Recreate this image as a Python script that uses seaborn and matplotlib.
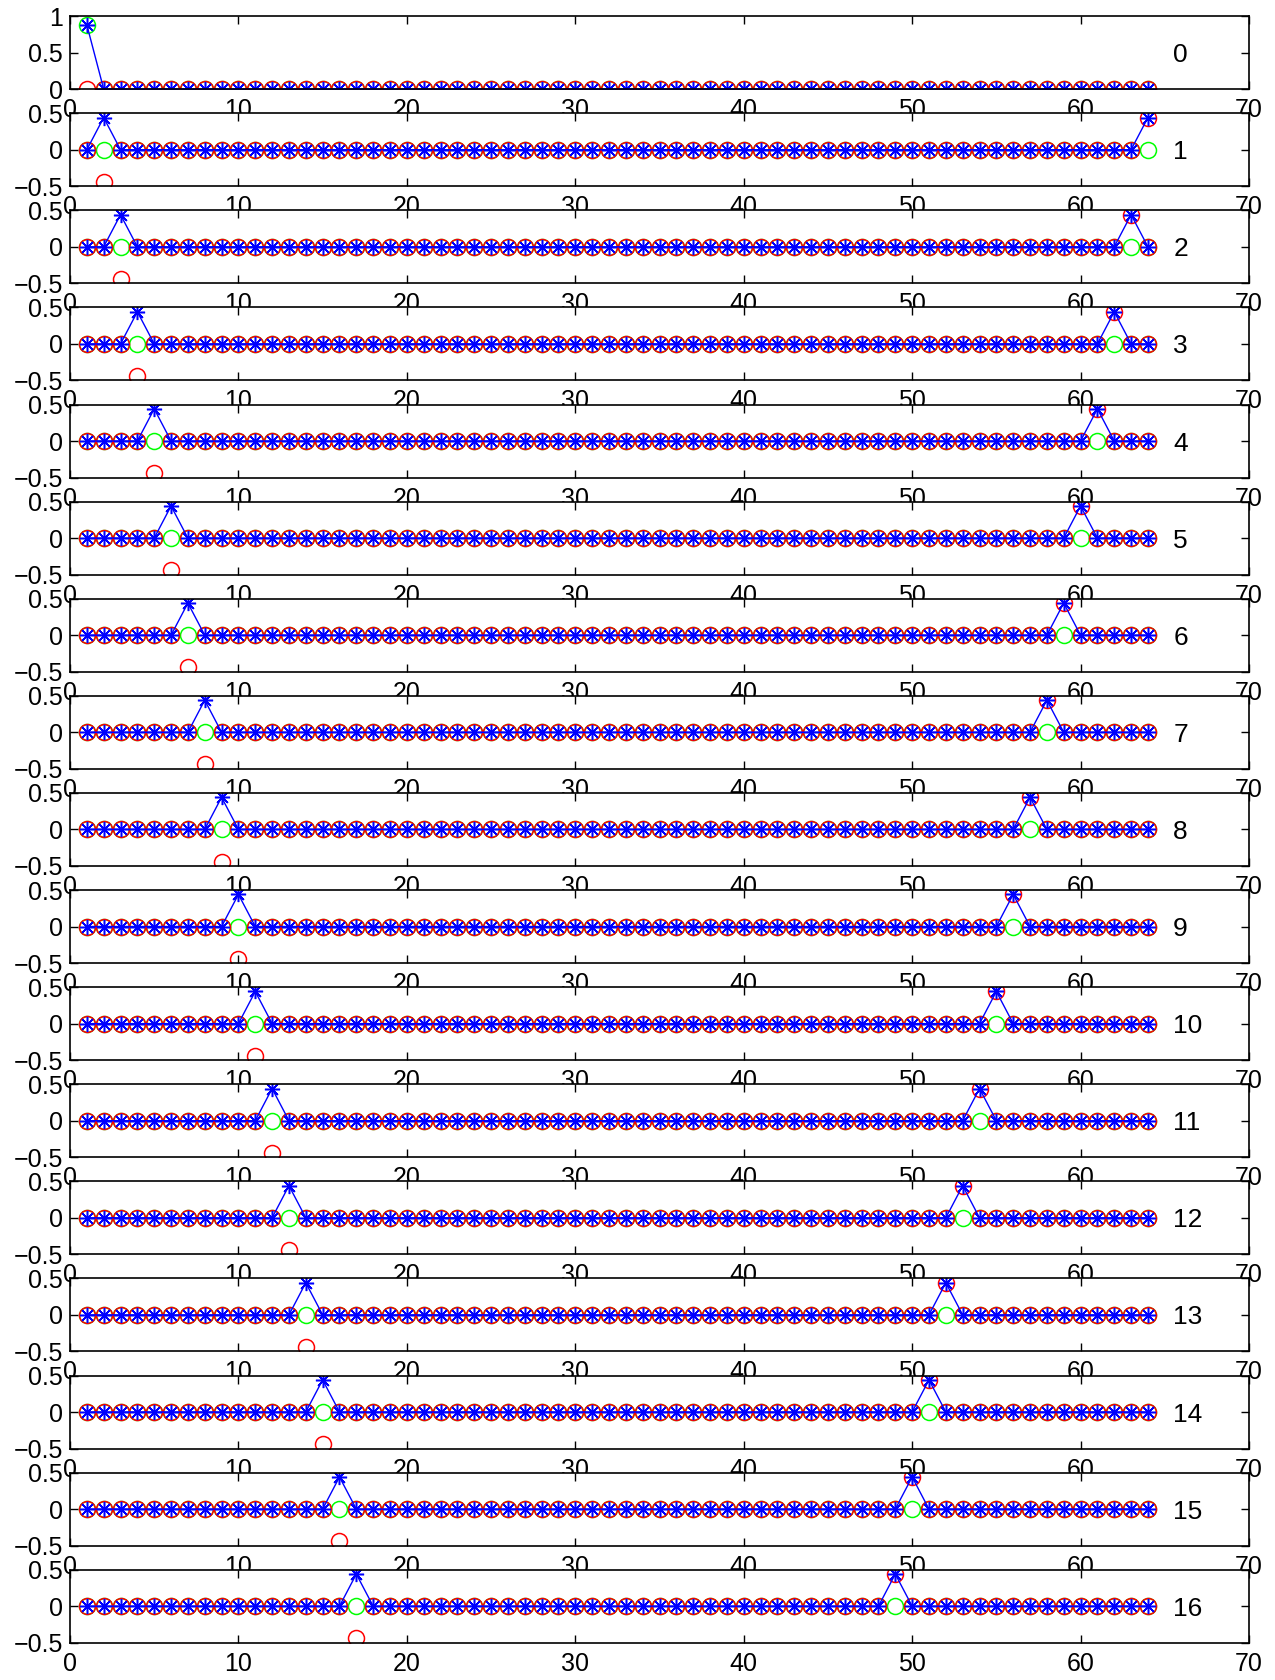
import numpy as np
import pandas as pd
import matplotlib
matplotlib.use("Agg")
import matplotlib.pyplot as plt
import seaborn as sns

sns.set_theme(style="white")
plt.rcParams['font.family'] = ['Liberation Sans', 'DejaVu Sans']

# ---- data ----
n_points = 64
sample_index = list(range(1, 65))
panel_labels = [str(k) for k in range(17)]
# left peak: sample position and values (abs, real/red, imag/green)
left_pos = [1, 2, 3, 4, 5, 6, 7, 8, 9, 10, 11, 12, 13, 14, 15, 16, 17]
left_abs = [0.88] + [0.44] * 16
left_red = [0.0] + [-0.44] * 16
left_green = [0.88] + [0.0] * 16
# right peak (panel 0 has none)
right_pos = [None, 64, 63, 62, 61, 60, 59, 58, 57, 56, 55, 54, 53, 52, 51, 50, 49]
right_abs = [None] + [0.44] * 16
right_red = [None] + [0.44] * 16
right_green = [None] + [0.0] * 16

x_ticks = [0, 10, 20, 30, 40, 50, 60, 70]

W, H = 1275, 1680
fig = plt.figure(figsize=(W / 100, H / 100), dpi=100)
fig.patch.set_facecolor('white')

left = 70 / W
width = (1249 - 70) / W
ax_h = 73 / H
bottom16 = 1 - 1642.7 / H
step = 97.1 / H

ms = 11.5
for k in range(17):
    b = bottom16 + (16 - k) * step
    ax = fig.add_axes([left, b, width, ax_h])
    ax.set_facecolor('white')
    xs = np.array(sample_index, dtype=float)
    blue = np.zeros(n_points)
    red = np.zeros(n_points)
    green = np.zeros(n_points)
    i = left_pos[k] - 1
    blue[i] = left_abs[k]; red[i] = left_red[k]; green[i] = left_green[k]
    if right_pos[k] is not None:
        j = right_pos[k] - 1
        blue[j] = right_abs[k]; red[j] = right_red[k]; green[j] = right_green[k]
    df = pd.DataFrame({'x': xs, 'blue': blue, 'red': red, 'green': green})
    sns.lineplot(data=df, x='x', y='green', ax=ax, color=(0, 1, 0), marker='o',
                 markerfacecolor='none', markeredgecolor=(0, 1, 0), markeredgewidth=1.1,
                 linestyle='none', markersize=ms, estimator=None)
    sns.lineplot(data=df, x='x', y='red', ax=ax, color=(1, 0, 0), marker='o',
                 markerfacecolor='none', markeredgecolor=(1, 0, 0), markeredgewidth=1.1,
                 linestyle='none', markersize=ms, estimator=None)
    sns.lineplot(data=df, x='x', y='blue', ax=ax, color=(0, 0, 1), marker=(8, 2, 0),
                 markeredgecolor=(0, 0, 1), markeredgewidth=1.1, linewidth=1.0,
                 markersize=ms * 0.95, estimator=None)
    ax.set_xlim(0, 70)
    if k == 0:
        ax.set_ylim(0, 1)
        ax.set_yticks([0, 0.5, 1])
        ax.set_yticklabels(['0', '0.5', '1'])
        ymid = 0.5
    else:
        ax.set_ylim(-0.5, 0.5)
        ax.set_yticks([-0.5, 0, 0.5])
        ax.set_yticklabels(['\u22120.5', '0', '0.5'])
        ymid = 0.0
    ax.set_xticks(x_ticks)
    ax.set_xticklabels([str(t) for t in x_ticks])
    ax.set_xlabel('')
    ax.set_ylabel('')
    ax.tick_params(direction='in', length=6, width=1.0, colors='black',
                   top=True, right=True, bottom=True, left=True, labelsize=18)
    ax.tick_params(axis='x', pad=6.5)
    ax.tick_params(axis='y', pad=5)
    for sp in ax.spines.values():
        sp.set_visible(True)
        sp.set_color('black')
        sp.set_linewidth(1.2)
    ax.text(65.5, ymid, panel_labels[k], ha='left', va='center_baseline',
            fontsize=19, color='black')
    ax.grid(False)

fig.savefig('out.png', dpi=100, facecolor='white')
